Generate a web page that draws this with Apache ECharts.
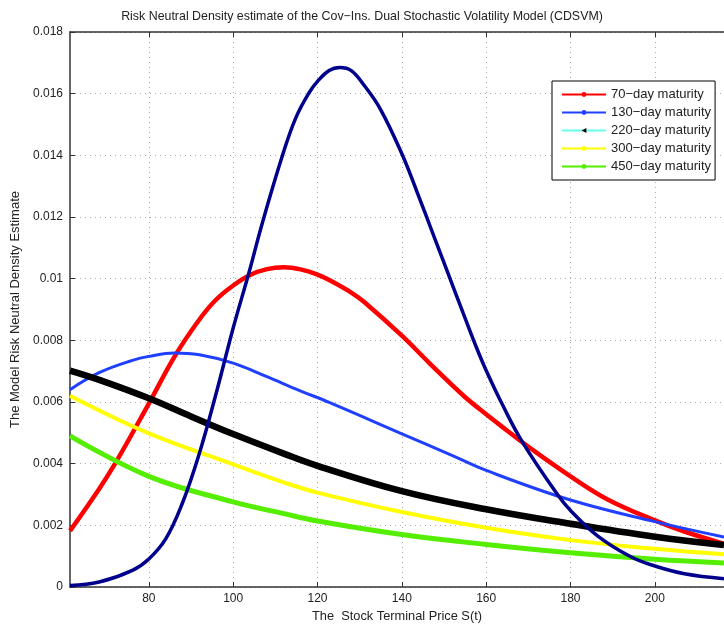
<!DOCTYPE html>
<html>
<head>
<meta charset="utf-8">
<script src="https://cdn.jsdelivr.net/npm/echarts@6/dist/echarts.min.js"></script>
<style>html,body{margin:0;padding:0;background:#fff;}#c{width:724px;height:628px;}</style>
</head>
<body>
<div id="c"></div>
<script>
// ---- data ----
const xTicks = [80, 100, 120, 140, 160, 180, 200];
const yTicks = [0, 0.002, 0.004, 0.006, 0.008, 0.01, 0.012, 0.014, 0.016, 0.018];

const seriesNames = ['70\u2212day maturity', '130\u2212day maturity', '220\u2212day maturity', '300\u2212day maturity', '450\u2212day maturity'];

const x70 = [61.3, 68.2, 72.2, 80, 86.3, 91.9, 95.8, 100, 104, 108, 112, 116, 120, 123, 128, 131, 140, 146.7, 154.5, 160, 165, 170.5, 180, 188.8, 200, 207, 216.4];
const y70 = [0.00182, 0.00318, 0.00405, 0.00595, 0.00752, 0.00866, 0.0093, 0.00978, 0.01012, 0.01031, 0.01037, 0.0103, 0.01013, 0.00994, 0.00955, 0.00925, 0.00815, 0.00724, 0.00622, 0.0056, 0.00507, 0.0045, 0.00359, 0.00284, 0.00216, 0.0018, 0.0014];

const x130 = [61.3, 68.2, 76.1, 80, 86, 92, 100, 107.7, 115.6, 122.9, 140, 152, 160, 180, 200, 216.4];
const y130 = [0.0064, 0.00695, 0.00735, 0.00748, 0.00759, 0.00753, 0.00726, 0.00684, 0.00638, 0.00598, 0.00497, 0.00426, 0.00378, 0.00282, 0.00212, 0.00162];

const x220 = [61.3, 68.4, 80, 90, 100, 112.3, 120, 140, 160, 180, 200, 216.4];
const y220 = [0.00702, 0.00671, 0.00612, 0.00553, 0.00496, 0.00431, 0.00393, 0.00311, 0.00252, 0.00205, 0.00163, 0.00136];

const x300 = [61.3, 80, 100, 112.3, 120, 140, 160, 180, 200, 216.4];
const y300 = [0.0062, 0.00498, 0.00398, 0.00338, 0.00306, 0.00243, 0.00192, 0.00152, 0.00124, 0.00106];

const x450 = [61.3, 80, 100, 112.3, 120, 140, 160, 180, 200, 216.4];
const y450 = [0.0049, 0.00359, 0.00276, 0.00237, 0.00214, 0.0017, 0.00138, 0.00111, 0.0009, 0.00078];

const xNavy = [61.3, 68.2, 76.1, 80, 84, 87.9, 91.9, 96, 100, 103.75, 106.9, 111.7, 114.8, 118, 120, 122.75, 125.3, 128, 131, 134.9, 140, 143.5, 146.7, 150.6, 154.5, 157.6, 160, 163.9, 168.6, 177, 180, 186.4, 194.3, 200, 207, 216.4];
const yNavy = [0.00005, 0.00016, 0.00054, 0.00091, 0.00156, 0.0027, 0.0043, 0.0063, 0.0084, 0.0102, 0.0118, 0.0140, 0.0152, 0.01603, 0.0164, 0.01675, 0.01685, 0.01675, 0.01628, 0.0155, 0.01405, 0.01285, 0.0117, 0.0103, 0.0089, 0.0078, 0.00702, 0.0059, 0.0047, 0.00298, 0.00248, 0.00166, 0.00098, 0.00068, 0.00043, 0.00027];

const pairs = (xs, ys) => xs.map((x, i) => [x, ys[i]]);

const FONT = 'Liberation Sans';
const chart = echarts.init(document.getElementById('c'), null, {renderer: 'canvas'});

function mkSeries(name, xs, ys, color, width, extra) {
  return Object.assign({
    name: name,
    type: 'line',
    data: pairs(xs, ys),
    smooth: 0.4,
    showSymbol: false,
    symbol: 'circle',
    silent: true,
    clip: true,
    lineStyle: {color: color, width: width},
    itemStyle: {color: color},
    emphasis: {disabled: true}
  }, extra || {});
}

const option = {
  animation: false,
  backgroundColor: '#fff',
  title: {
    text: 'Risk Neutral Density estimate of the Cov\u2212Ins. Dual Stochastic Volatility Model (CDSVM)',
    left: 'center',
    top: 6,
    textStyle: {fontFamily: FONT, fontSize: 12.4, fontWeight: 'normal', color: '#222'}
  },
  legend: {
    orient: 'vertical',
    left: 552,
    top: 81,
    padding: [7, 4, 7, 9],
    itemWidth: 44,
    itemHeight: 6,
    itemGap: 5,
    backgroundColor: '#fff',
    borderColor: '#000',
    borderWidth: 1,
    lineStyle: {width: 2},
    textStyle: {fontFamily: FONT, fontSize: 13, color: '#222', lineHeight: 13},
    data: [
      {name: seriesNames[0]},
      {name: seriesNames[1]},
      {name: seriesNames[2], itemStyle: {color: '#000'}, lineStyle: {color: '#66ffee', width: 2}},
      {name: seriesNames[3]},
      {name: seriesNames[4]}
    ]
  },
  grid: {left: 70, right: 0, top: 32, bottom: 36, containLabel: false},
  xAxis: [{
    type: 'value',
    min: 61.3,
    max: 216.4,
    name: 'The  Stock Terminal Price S(t)',
    nameLocation: 'middle',
    nameGap: 23,
    nameTextStyle: {fontFamily: FONT, fontSize: 12.8, color: '#222'},
    axisLine: {show: true, onZero: false, lineStyle: {color: '#333', width: 1.5}},
    axisTick: {show: true, inside: true, length: 5, customValues: xTicks, lineStyle: {color: '#333'}},
    axisLabel: {customValues: xTicks, fontFamily: FONT, fontSize: 12, color: '#222', margin: 6},
    splitLine: {show: true, lineStyle: {color: '#aaa', type: [1, 4], width: 1}}
  }, {
    type: 'value',
    position: 'top',
    min: 61.3,
    max: 216.4,
    axisLine: {show: true, onZero: false, lineStyle: {color: '#333', width: 1.5}},
    axisTick: {show: true, inside: true, length: 5, customValues: xTicks, lineStyle: {color: '#333'}},
    axisLabel: {show: false},
    splitLine: {show: false}
  }],
  yAxis: {
    type: 'value',
    min: 0,
    max: 0.018,
    interval: 0.002,
    name: 'The Model Risk Neutral Density Estimate',
    nameLocation: 'middle',
    nameGap: 44,
    nameTextStyle: {fontFamily: FONT, fontSize: 13, color: '#222'},
    axisLine: {show: true, lineStyle: {color: '#333', width: 1.5}},
    axisTick: {show: true, inside: true, length: 5, lineStyle: {color: '#333'}},
    axisLabel: {
      fontFamily: FONT, fontSize: 12, color: '#222', margin: 7,
      formatter: v => String(parseFloat(Number(v).toFixed(3)))
    },
    splitLine: {show: true, lineStyle: {color: '#aaa', type: [1, 4], width: 1}}
  },
  series: [
    mkSeries(seriesNames[0], x70, y70, '#ff0000', 4.5),
    mkSeries(seriesNames[1], x130, y130, '#2040ff', 3),
    mkSeries(seriesNames[2], x220, y220, '#000000', 6.5, {symbol: 'triangle', symbolRotate: 90}),
    mkSeries(seriesNames[3], x300, y300, '#ffff00', 4),
    mkSeries(seriesNames[4], x450, y450, '#55ee00', 5),
    mkSeries('navy', xNavy, yNavy, '#00008c', 3.5)
  ]
};
chart.setOption(option);
</script>
</body>
</html>
